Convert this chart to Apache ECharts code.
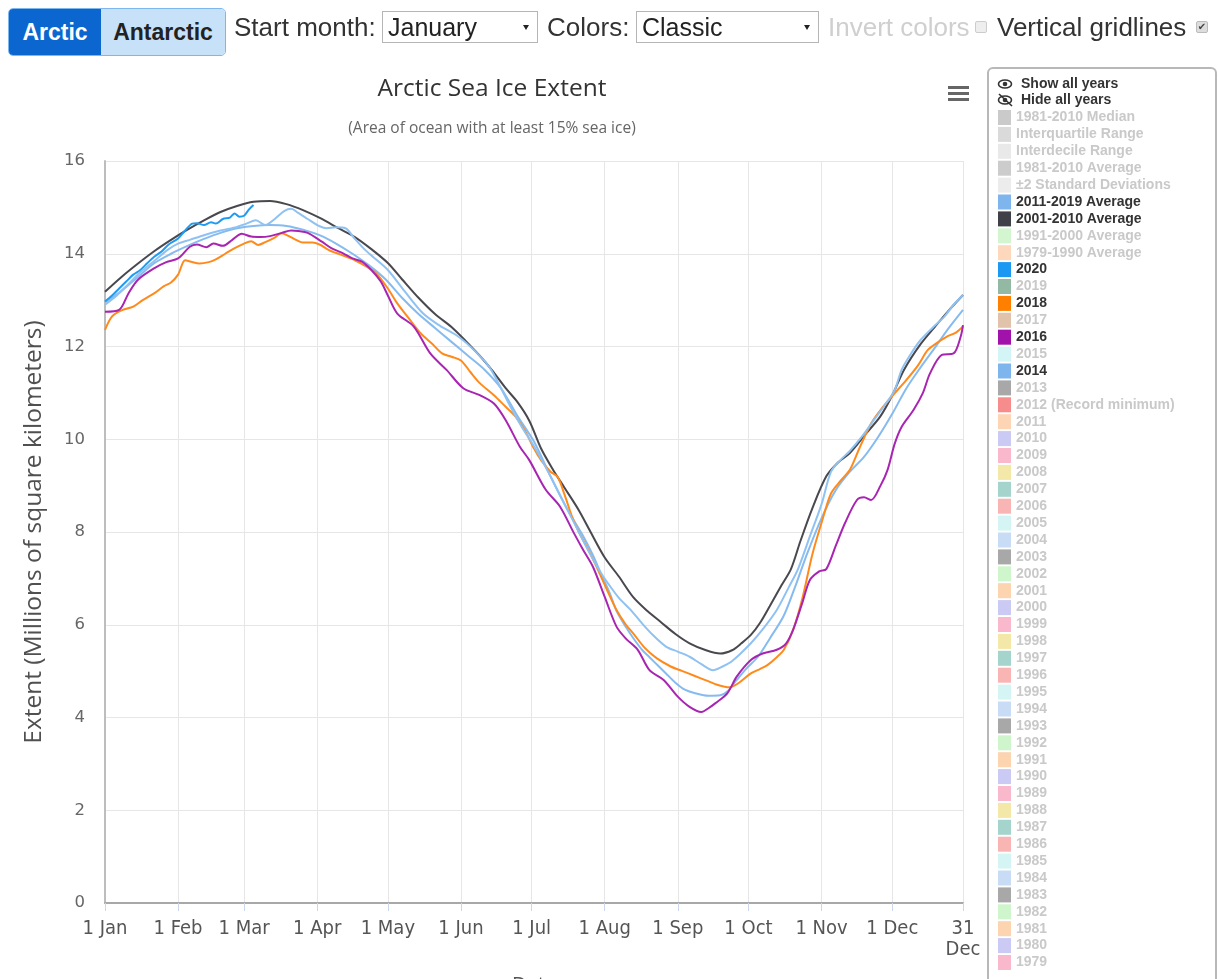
<!DOCTYPE html>
<html>
<head>
<meta charset="utf-8">
<script src="https://cdn.jsdelivr.net/npm/echarts@6/dist/echarts.min.js"></script>
<style>
html, body { margin: 0; padding: 0; background: #fff; }
#chart { position: absolute; left: 0; top: 0; width: 1218px; height: 979px; }
.ctl { position: absolute; font-family: "Liberation Sans", Arial, sans-serif; font-size: 26px; color: #333; line-height: 1; white-space: nowrap; }
.seg { position: absolute; left: 8px; top: 8px; width: 216px; height: 46px; border: 1px solid #7db7ee; border-radius: 5px; overflow: hidden; display: flex; font-family: "Liberation Sans", Arial, sans-serif; font-weight: bold; font-size: 23px; }
.seg span { display: flex; align-items: center; justify-content: center; }
.seg .on { width: 92px; background: #0b66cf; color: #fff; }
.seg .off { flex: 1; background: #c6e1f8; color: #222; }
.sel { position: absolute; top: 11px; height: 32px; border: 1px solid #b5b5b5; background: #fff; box-sizing: border-box; font-family: "Liberation Sans", Arial, sans-serif; font-size: 25px; line-height: 1; color: #222; padding: 3px 0 0 5px; }
.sel i { position: absolute; right: 8px; top: 13px; width: 0; height: 0; border-left: 3px solid transparent; border-right: 3px solid transparent; border-top: 5px solid #222; }
.cb { position: absolute; top: 21px; width: 10px; height: 10px; border: 1px solid #ccc; background: #eee; border-radius: 2px; font-size: 10px; line-height: 10px; text-align: center; color: #444; font-family: "DejaVu Sans", sans-serif; }
</style>
</head>
<body>
<div id="chart"></div>
<div class="seg"><span class="on">Arctic</span><span class="off">Antarctic</span></div>
<span class="ctl" style="left:234px;top:14px">Start month:</span>
<div class="sel" style="left:382px;width:156px">January<i></i></div>
<span class="ctl" style="left:547px;top:14px">Colors:</span>
<div class="sel" style="left:636px;width:183px">Classic<i></i></div>
<span class="ctl" style="left:828px;top:14px;color:#cfcfcf">Invert colors</span>
<div class="cb" style="left:975px"></div>
<span class="ctl" style="left:997px;top:14px">Vertical gridlines</span>
<div class="cb" style="left:1196px;background:#ddd;border-color:#bbb">✔</div>
<script>
// day of year (0 = 1 Jan) -> extent, millions of km²
const avg2011_2019 = [[0,12.95],[7,13.2],[14,13.5],[21,13.8],[28,14.0],[35,14.17],[42,14.32],[49,14.45],[56,14.55],[63,14.6],[70,14.62],[77,14.6],[84,14.52],[91,14.4],[98,14.22],[105,14.0],[112,13.75],[119,13.45],[126,13.05],[133,12.7],[140,12.4],[147,12.1],[154,11.8],[161,11.5],[168,11.1],[175,10.5],[182,9.95],[189,9.2],[196,8.5],[203,7.9],[207,7.5],[210,7.15],[214,6.7],[217,6.3],[221,5.95],[224,5.72],[228,5.45],[231,5.3],[235,5.1],[238,4.95],[242,4.75],[246,4.6],[250,4.53],[256,4.47],[261,4.48],[264,4.56],[268,4.81],[272,5.05],[277,5.31],[282,5.7],[288,6.2],[293,6.85],[298,7.55],[304,8.3],[310,8.9],[316,9.3],[322,9.62],[328,10.05],[334,10.55],[340,11.1],[346,11.55],[352,11.97],[358,12.4],[364,12.79]];
const avg2001_2010 = [[0,13.18],[7,13.5],[14,13.79],[21,14.06],[28,14.3],[35,14.52],[42,14.72],[49,14.9],[56,15.03],[63,15.12],[70,15.14],[77,15.07],[84,14.94],[92,14.75],[99,14.55],[106,14.36],[113,14.1],[120,13.8],[126,13.45],[133,13.05],[140,12.7],[147,12.42],[153,12.12],[159,11.8],[164,11.5],[170,11.1],[175,10.8],[180,10.4],[185,9.8],[190,9.35],[195,8.95],[201,8.47],[206,8.0],[212,7.45],[218,7.04],[224,6.6],[230,6.3],[236,6.05],[242,5.8],[248,5.6],[255,5.45],[261,5.38],[266,5.45],[270,5.6],[274,5.78],[278,6.05],[282,6.4],[287,6.85],[291,7.2],[295,7.8],[300,8.5],[306,9.2],[311,9.5],[316,9.7],[323,10.13],[329,10.5],[334,10.95],[339,11.5],[346,12.05],[352,12.42],[358,12.78],[364,13.11]];
const y2020 = [[0,12.97],[3,13.1],[6,13.25],[9,13.4],[12,13.55],[15,13.65],[18,13.8],[21,13.94],[24,14.05],[27,14.2],[31,14.33],[34,14.5],[37,14.65],[39,14.66],[42,14.62],[45,14.68],[47,14.65],[50,14.75],[53,14.78],[55,14.87],[57,14.8],[59,14.82],[61,14.95],[63,15.05]];
const y2018 = [[0,12.36],[3,12.65],[7,12.78],[12,12.86],[16,13.0],[21,13.15],[25,13.3],[28,13.38],[31,13.55],[34,13.86],[37,13.82],[40,13.79],[44,13.82],[47,13.88],[51,14.0],[55,14.12],[59,14.22],[62,14.27],[65,14.19],[68,14.25],[72,14.35],[75,14.44],[78,14.38],[81,14.3],[84,14.24],[88,14.24],[91,14.2],[95,14.08],[100,13.98],[106,13.86],[111,13.72],[115,13.58],[120,13.25],[124,12.93],[129,12.6],[134,12.28],[139,12.05],[143,11.85],[147,11.78],[151,11.7],[155,11.45],[159,11.21],[165,10.95],[170,10.7],[174,10.5],[178,10.2],[182,9.8],[185,9.55],[189,9.3],[192,9.19],[195,8.8],[198,8.35],[201,8.0],[205,7.62],[209,7.2],[213,6.75],[217,6.32],[221,6.0],[224,5.82],[229,5.5],[234,5.28],[240,5.1],[245,5.0],[250,4.9],[255,4.8],[260,4.7],[265,4.65],[269,4.75],[274,4.95],[278,5.05],[281,5.13],[285,5.3],[288,5.46],[292,5.9],[296,6.6],[300,7.5],[304,8.2],[308,8.83],[312,9.1],[316,9.34],[320,9.8],[325,10.34],[329,10.63],[335,10.99],[340,11.28],[345,11.6],[349,11.92],[353,12.08],[357,12.21],[361,12.3],[364,12.43]];
const y2016 = [[0,12.75],[6,12.79],[10,13.15],[14,13.44],[21,13.69],[26,13.82],[31,13.9],[36,14.15],[39,14.2],[43,14.14],[46,14.22],[50,14.17],[54,14.3],[58,14.43],[62,14.37],[66,14.36],[70,14.38],[75,14.45],[79,14.5],[82,14.49],[86,14.45],[92,14.26],[96,14.12],[101,14.01],[105,13.9],[109,13.83],[113,13.65],[117,13.4],[120,13.1],[124,12.71],[131,12.43],[138,11.85],[145,11.49],[152,11.1],[159,10.95],[165,10.77],[170,10.41],[176,9.84],[180,9.55],[187,8.91],[193,8.55],[199,7.97],[203,7.6],[207,7.25],[212,6.6],[217,5.96],[221,5.7],[226,5.46],[231,5.02],[237,4.81],[243,4.45],[248,4.23],[253,4.12],[256,4.2],[259,4.31],[264,4.52],[268,4.88],[274,5.24],[279,5.38],[285,5.46],[289,5.6],[292,5.9],[296,6.5],[299,6.96],[303,7.15],[306,7.2],[310,7.7],[314,8.2],[319,8.69],[322,8.75],[325,8.69],[329,9.0],[332,9.34],[335,9.9],[338,10.27],[343,10.63],[347,11.0],[350,11.42],[355,11.82],[360,11.85],[363,12.21],[364,12.46]];
const y2014 = [[0,12.9],[5,13.1],[10,13.35],[15,13.6],[21,13.85],[27,14.1],[31,14.22],[36,14.3],[42,14.4],[49,14.5],[56,14.58],[60,14.65],[64,14.72],[68,14.62],[72,14.75],[76,14.92],[79,14.97],[82,14.88],[86,14.75],[90,14.62],[94,14.55],[98,14.57],[102,14.55],[106,14.32],[110,14.1],[114,13.92],[120,13.65],[127,13.2],[135,12.71],[142,12.45],[150,12.21],[157,11.9],[163,11.56],[168,11.1],[172,10.7],[177,10.25],[182,9.85],[188,9.3],[194,8.7],[200,8.1],[205,7.6],[210,7.15],[214,6.85],[218,6.58],[223,6.32],[228,6.02],[233,5.75],[238,5.53],[243,5.42],[248,5.31],[253,5.15],[258,5.02],[262,5.1],[265,5.18],[269,5.35],[274,5.6],[279,5.9],[285,6.32],[290,6.8],[294,7.2],[299,7.9],[304,8.6],[308,9.3],[312,9.55],[316,9.75],[321,10.05],[326,10.4],[331,10.75],[335,11.06],[338,11.5],[342,11.85],[346,12.14],[351,12.4],[356,12.64],[360,12.9],[364,13.11]];

const monthDays = [0, 31, 59, 90, 120, 151, 181, 212, 243, 273, 304, 334, 364];
const monthLabels = ['1 Jan', '1 Feb', '1 Mar', '1 Apr', '1 May', '1 Jun', '1 Jul', '1 Aug', '1 Sep', '1 Oct', '1 Nov', '1 Dec', '31\nDec'];

const legendNames = ['1981-2010 Median', 'Interquartile Range', 'Interdecile Range', '1981-2010 Average', '±2 Standard Deviations',
  '2011-2019 Average', '2001-2010 Average', '1991-2000 Average', '1979-1990 Average',
  '2020', '2019', '2018', '2017', '2016', '2015', '2014', '2013', '2012 (Record minimum)', '2011', '2010',
  '2009', '2008', '2007', '2006', '2005', '2004', '2003', '2002', '2001', '2000',
  '1999', '1998', '1997', '1996', '1995', '1994', '1993', '1992', '1991', '1990',
  '1989', '1988', '1987', '1986', '1985', '1984', '1983', '1982', '1981', '1980', '1979'];
const legendColors = ['#cacaca', '#dadada', '#e9e9e9', '#cccccc', '#ececec',
  '#7eb5ec', '#404048', '#d3f5cf', '#fdd8bd',
  '#1a98f2', '#93b8a4', '#ff8000', '#e1c3ab', '#a012aa', '#d4f5f5', '#7eb5ec', '#a8a8a8', '#f78c8c', '#fdd4b4', '#cacaf4',
  '#f9b8cb', '#f3e8a8', '#a4d4cc', '#f9b4b4', '#d4f5f3', '#c8dcf5', '#a8a8a8', '#cff5cc', '#fcd4b0', '#cacaf4',
  '#f9b8cb', '#f3e8a8', '#a4d4cc', '#f9b4b4', '#d4f5f3', '#c8dcf5', '#a8a8a8', '#cff5cc', '#fcd4b0', '#cacaf4',
  '#f9b8cb', '#f3e8a8', '#a4d4cc', '#f9b4b4', '#d4f5f3', '#c8dcf5', '#a8a8a8', '#cff5cc', '#fcd4b0', '#cacaf4', '#f9b8cb'];
const shownData = {
  '2011-2019 Average': avg2011_2019,
  '2001-2010 Average': avg2001_2010,
  '2020': y2020,
  '2018': y2018,
  '2016': y2016,
  '2014': y2014,
};

const lineColors = {
  '2011-2019 Average': '#86bbf0',
  '2001-2010 Average': '#48484e',
  '2020': '#1f9cf2',
  '2018': '#ff8a1c',
  '2016': '#a825b2',
  '2014': '#8fc2f2',
};

const chart = echarts.init(document.getElementById('chart'));

const series = legendNames.map((name, i) => {
  const data = shownData[name] || [];
  const c = legendColors[i];
  return {
    name: name,
    type: 'line',
    data: data,
    color: c,
    showSymbol: false,
    symbol: 'none',
    smooth: 0.3,
    lineStyle: { width: 2, color: lineColors[name] || c },
    emphasis: { disabled: true },
  };
});

const eye = (cy, slash) => {
  const g = [
    { type: 'ellipse', shape: { cx: 1005, cy: cy, rx: 6.5, ry: 4 }, style: { fill: 'none', stroke: '#333', lineWidth: 1.6 } },
    { type: 'circle', shape: { cx: 1005, cy: cy, r: 2.3 }, style: { fill: '#333' } },
  ];
  if (slash) g.push({ type: 'line', shape: { x1: 999, y1: cy - 6, x2: 1012, y2: cy + 6 }, style: { stroke: '#333', lineWidth: 1.6 } });
  return g;
};

chart.setOption({
  animation: false,
  legend: {
    orient: 'vertical',
    left: 998,
    top: 110,
    padding: 0,
    itemWidth: 13,
    itemHeight: 15,
    itemGap: 1.9,
    icon: 'rect',
    textStyle: { fontFamily: 'Liberation Sans', fontSize: 14, fontWeight: 'bold' },
    data: legendNames.map(n => ({ name: n, textStyle: { color: shownData[n] ? '#333' : '#c9c9c9' } })),
  },
  grid: { left: 105, right: 255, top: 161, bottom: 76, outerBoundsMode: 'none' },
  xAxis: {
    type: 'value',
    min: 0,
    max: 364,
    name: 'Date',
    nameLocation: 'middle',
    nameGap: 72,
    nameTextStyle: { fontFamily: 'Open Sans', fontSize: 20, color: '#555' },
    axisLine: { show: true, onZero: false, lineStyle: { color: '#a8a8a8', width: 2 } },
    axisTick: { show: true, length: 8, lineStyle: { color: '#ccd6eb' }, customValues: monthDays },
    axisLabel: {
      customValues: monthDays,
      margin: 15,
      fontFamily: '"Liberation Sans Narrow", "DejaVu Sans Condensed", sans-serif',
      fontSize: 20,
      color: '#555',
      lineHeight: 21,
      formatter: v => monthLabels[monthDays.indexOf(v)],
    },
    splitLine: { show: true, lineStyle: { color: '#e6e6e6', width: 1 } },
  },
  yAxis: {
    type: 'value',
    min: 0,
    max: 16,
    interval: 2,
    name: 'Extent (Millions of square kilometers)',
    nameLocation: 'middle',
    nameGap: 58,
    nameTextStyle: { fontFamily: 'Open Sans', fontSize: 24.5, color: '#505050' },
    axisLine: { show: true, lineStyle: { color: '#bdbdbd', width: 2 } },
    axisTick: { show: false },
    axisLabel: { margin: 20, fontFamily: 'DejaVu Sans', fontSize: 16.5, color: '#666' },
    splitLine: { show: true, lineStyle: { color: '#e6e6e6', width: 1 } },
  },
  graphic: [
    { type: 'text', x: 492, y: 89, style: { text: 'Arctic Sea Ice Extent', fill: '#333', font: '24.5px "Open Sans"', textAlign: 'center', textVerticalAlign: 'middle' } },
    { type: 'text', x: 492, y: 129, style: { text: '(Area of ocean with at least 15% sea ice)', fill: '#666', font: '15.5px "Open Sans"', textAlign: 'center', textVerticalAlign: 'middle' } },
    { type: 'rect', shape: { x: 988, y: 68, width: 228, height: 960, r: 5 }, style: { fill: 'none', stroke: '#b8b8b8', lineWidth: 2 } },
    { type: 'rect', shape: { x: 948, y: 86, width: 21, height: 3 }, style: { fill: '#666' } },
    { type: 'rect', shape: { x: 948, y: 92, width: 21, height: 3 }, style: { fill: '#666' } },
    { type: 'rect', shape: { x: 948, y: 98, width: 21, height: 3 }, style: { fill: '#666' } },
    ...eye(84, false),
    ...eye(100, true),
    { type: 'text', x: 1021, y: 84, style: { text: 'Show all years', fill: '#333', font: 'bold 14px "Liberation Sans"', textVerticalAlign: 'middle' } },
    { type: 'text', x: 1021, y: 100, style: { text: 'Hide all years', fill: '#333', font: 'bold 14px "Liberation Sans"', textVerticalAlign: 'middle' } },
  ],
  series: series,
});
</script>
</body>
</html>
